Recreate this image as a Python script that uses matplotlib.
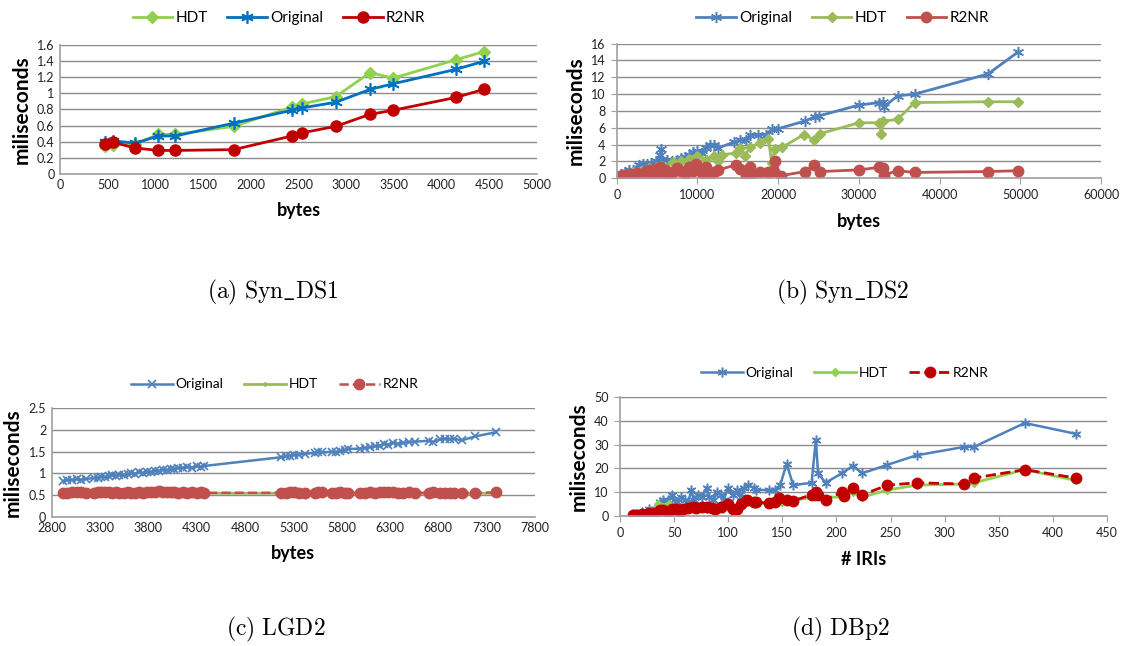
import matplotlib
matplotlib.use('Agg')
import matplotlib.pyplot as plt
from matplotlib.ticker import FuncFormatter, MultipleLocator

plt.rcParams['font.family'] = ['Lato', 'DejaVu Sans']
plt.rcParams['mathtext.fontset'] = 'cm'

# (a) Syn_DS1
a_x = [470, 560, 790, 1030, 1210, 1820, 2430, 2540, 2890, 3250, 3490, 4150, 4440]
a_hdt = [0.35, 0.36, 0.37, 0.49, 0.49, 0.59, 0.83, 0.87, 0.96, 1.26, 1.19, 1.42, 1.52]
a_orig = [0.39, 0.41, 0.38, 0.47, 0.47, 0.63, 0.79, 0.82, 0.89, 1.05, 1.12, 1.30, 1.40]
a_r2nr = [0.37, 0.39, 0.32, 0.29, 0.29, 0.30, 0.47, 0.51, 0.59, 0.74, 0.79, 0.95, 1.05]

# (b) Syn_DS2
b_orig_x = [500, 1000, 1500, 2000, 2700, 3200, 3800, 4300, 4800, 5400, 5500, 5600, 6200, 6800,
            7300, 8000, 8500, 9000, 9500, 10000, 10500, 11000, 11500, 12000, 12600, 14500, 15300,
            16000, 16500, 17500, 18500, 19200, 20000, 23300, 24500, 25000, 30000, 32500, 33000,
            33100, 34800, 36900, 46000, 49700]
b_orig = [0.5, 0.8, 1.0, 1.0, 1.6, 1.7, 1.7, 1.8, 2.0, 2.8, 3.5, 2.2, 2.2, 2.0,
          2.1, 2.4, 2.5, 2.8, 3.1, 3.2, 3.0, 3.6, 4.0, 4.0, 3.6, 4.3, 4.6,
          4.5, 5.1, 5.2, 5.2, 5.8, 5.9, 6.8, 7.3, 7.4, 8.7, 9.0, 9.1,
          8.5, 9.8, 10.0, 12.4, 15.0]
b_hdt_x = [500, 1000, 2000, 3000, 4000, 5000, 5500, 6000, 7000, 8000, 9000, 10000, 11000, 12000,
           12600, 13000, 14800, 15300, 15900, 16500, 17700, 18800, 19200, 19600, 20500, 23200,
           24400, 25200, 30000, 32500, 32800, 33000, 34800, 36900, 46000, 49700]
b_hdt = [0.3, 0.4, 0.7, 0.9, 1.2, 1.4, 1.5, 1.3, 1.9, 2.1, 2.3, 2.6, 2.2, 2.7,
         2.1, 2.8, 3.0, 3.6, 2.7, 3.7, 4.2, 4.7, 1.8, 3.5, 3.7, 5.2,
         4.6, 5.3, 6.6, 6.6, 5.3, 6.8, 7.0, 9.0, 9.1, 9.1]
b_r2nr_x = [400, 800, 1200, 1600, 2000, 2500, 3000, 3500, 4000, 4300, 4700, 5000, 5400, 5600,
            6000, 6500, 7000, 7500, 8000, 8500, 9000, 9500, 9800, 10500, 11000, 11500, 12000,
            12600, 14800, 15300, 16000, 16500, 16700, 17700, 18800, 19300, 19600, 20300, 23300,
            24400, 25200, 30000, 32500, 33000, 33100, 34800, 36900, 46000, 49700]
b_r2nr = [0.3, 0.4, 0.3, 0.5, 0.3, 0.6, 0.4, 0.8, 1.0, 0.5, 1.1, 0.7, 1.3, 0.4,
          1.0, 0.4, 0.8, 1.2, 0.9, 0.5, 1.3, 0.9, 1.7, 0.6, 1.4, 0.5, 0.8,
          1.0, 1.6, 1.1, 0.3, 1.3, 0.5, 0.8, 0.7, 0.9, 2.1, 0.3, 0.8,
          1.6, 0.8, 1.0, 1.3, 1.2, 0.4, 0.9, 0.7, 0.8, 0.9]

# (c) LGD2
c_ticks = [2800, 3300, 3800, 4300, 4800, 5300, 5800, 6300, 6800, 7300, 7800]
c_x = [2920, 2960, 3010, 3060, 3100, 3150, 3240, 3280, 3310, 3350, 3390, 3420, 3460, 3500,
       3550, 3590, 3620, 3660, 3700, 3740, 3790, 3830, 3870, 3910, 3950, 3990, 4030, 4070,
       4110, 4160, 4200, 4250, 4300, 4340, 4380,
       5170, 5220, 5270, 5310, 5360, 5420, 5520, 5560, 5600, 5700, 5740, 5780, 5830, 5870,
       5990, 6040, 6090, 6140, 6200, 6240, 6280, 6330, 6380, 6430, 6500, 6560, 6700, 6740,
       6820, 6870, 6920, 6960, 7040, 7180, 7400]
c_orig = [0.82, 0.84, 0.85, 0.86, 0.85, 0.87, 0.89, 0.90, 0.92, 0.91, 0.93, 0.95, 0.94, 0.96,
          0.95, 0.98, 1.00, 0.99, 1.02, 1.01, 1.04, 1.03, 1.06, 1.05, 1.08, 1.07, 1.09, 1.10,
          1.12, 1.13, 1.14, 1.13, 1.16, 1.15, 1.17,
          1.37, 1.39, 1.41, 1.42, 1.43, 1.45, 1.47, 1.50, 1.48, 1.50, 1.48, 1.51, 1.54, 1.56,
          1.57, 1.58, 1.60, 1.62, 1.64, 1.68, 1.66, 1.70, 1.68, 1.70, 1.72, 1.73, 1.75, 1.72,
          1.78, 1.80, 1.78, 1.80, 1.76, 1.85, 1.95]
c_hdt = [0.54, 0.54, 0.54, 0.55, 0.54, 0.54, 0.54, 0.54, 0.55, 0.54, 0.54, 0.55, 0.54, 0.54,
         0.54, 0.54, 0.54, 0.54, 0.55, 0.54, 0.54, 0.54, 0.54, 0.55, 0.54, 0.54, 0.54, 0.55,
         0.54, 0.54, 0.54, 0.54, 0.54, 0.54, 0.54,
         0.54, 0.54, 0.54, 0.55, 0.54, 0.54, 0.54, 0.54, 0.55, 0.54, 0.54, 0.54, 0.54, 0.54,
         0.54, 0.54, 0.55, 0.54, 0.54, 0.54, 0.55, 0.54, 0.54, 0.54, 0.54, 0.54, 0.54, 0.54,
         0.54, 0.54, 0.54, 0.54, 0.54, 0.54, 0.54]
c_r2nr = [0.55, 0.55, 0.56, 0.57, 0.56, 0.55, 0.55, 0.56, 0.56, 0.57, 0.56, 0.55, 0.56, 0.55,
          0.55, 0.56, 0.55, 0.55, 0.56, 0.55, 0.56, 0.56, 0.58, 0.59, 0.57, 0.56, 0.58, 0.56,
          0.55, 0.56, 0.55, 0.56, 0.55, 0.56, 0.55,
          0.55, 0.55, 0.56, 0.56, 0.55, 0.55, 0.55, 0.56, 0.56, 0.55, 0.55, 0.56, 0.55, 0.55,
          0.55, 0.55, 0.56, 0.55, 0.56, 0.57, 0.58, 0.56, 0.55, 0.55, 0.56, 0.55, 0.55, 0.56,
          0.55, 0.55, 0.55, 0.55, 0.55, 0.55, 0.56]

# (d) DBp2
d_orig_x = [12, 15, 20, 27, 32, 37, 40, 44, 48, 50, 53, 56, 60, 63, 66, 68, 72, 76, 80, 82,
            86, 90, 93, 96, 100, 104, 108, 112, 115, 118, 124, 126, 138, 143, 148, 154, 160,
            177, 181, 183, 190, 205, 215, 224, 247, 274, 318, 327, 374, 421]
d_orig = [1, 1, 2, 3, 3, 6, 7, 7, 9, 7, 6, 8, 7, 6, 11, 7, 9, 8, 12, 8,
          7, 10, 9, 7, 12, 9, 11, 8, 12, 13, 12, 11, 11, 11, 13, 22, 13,
          14, 32, 18, 14, 18, 21, 18, 21.5, 25.5, 29, 29, 39, 34.5]
d_hdt_x = [12, 20, 30, 35, 40, 45, 50, 55, 60, 70, 80, 88, 95, 100, 110, 125, 150, 180,
           205, 215, 224, 247, 274, 318, 327, 374, 421]
d_hdt = [0.5, 1, 2, 5, 4, 5, 3, 2, 3, 3, 3, 2, 3, 4, 4, 5, 6, 8,
         8, 10, 8, 11, 13, 13.5, 14, 19.5, 15]
d_r2nr_x = [12, 15, 20, 27, 32, 37, 40, 44, 48, 52, 55, 58, 63, 67, 70, 76, 80, 85, 88, 93,
            100, 104, 108, 112, 117, 124, 126, 138, 143, 147, 154, 160, 177, 181, 183, 190,
            205, 207, 215, 224, 247, 274, 318, 327, 374, 421]
d_r2nr = [0.5, 0.5, 1, 1.5, 1.5, 2.5, 2.5, 2, 3, 3, 2, 3, 3.5, 4, 3.5, 4, 4, 3.5, 3, 4,
          5, 3, 3, 5, 7, 6, 6, 5.5, 6, 7.5, 7, 6.5, 9, 10, 9, 7,
          10, 8.5, 12, 9, 13, 14, 13.5, 16, 19.5, 16]

star = (6, 2, 0)
fmt = FuncFormatter(lambda v, p: '{:g}'.format(round(v, 3)))


def style(ax, xlabel, xlim, xticks, ylim, ystep, ticklen):
    ax.set_xlim(*xlim)
    ax.set_ylim(*ylim)
    ax.set_xticks(xticks)
    ax.yaxis.set_major_locator(MultipleLocator(ystep))
    ax.yaxis.set_major_formatter(fmt)
    ax.xaxis.set_major_formatter(fmt)
    ax.grid(axis='y', color='#8c8c8c', lw=1)
    ax.set_axisbelow(True)
    for s in ['top', 'right']:
        ax.spines[s].set_visible(False)
    for s in ['left', 'bottom']:
        ax.spines[s].set_color('#a0a0a0')
        ax.spines[s].set_linewidth(1.2)
    ax.tick_params(labelsize=9, length=ticklen, color='#a0a0a0', labelcolor='#222222', pad=4)
    ax.set_ylabel('miliseconds', fontsize=15, fontweight='bold', labelpad=4)
    ax.set_xlabel(xlabel, fontsize=13, fontweight='bold', labelpad=8)


leg_kw = dict(loc='center', ncol=3, frameon=False, handletextpad=0.2)

fig = plt.figure(figsize=(11.22, 6.46), dpi=100)

# (a)
ax = fig.add_axes([0.0535, 0.7311, 0.4251, 0.1988])
ax.plot(a_x, a_hdt, color='#92D050', lw=2, marker='D', ms=6, label='HDT')
ax.plot(a_x, a_orig, color='#0070C0', lw=2, marker=star, ms=9, mew=1.2, label='Original')
ax.plot(a_x, a_r2nr, color='#C00000', lw=2, marker='o', ms=8, label='R2NR')
style(ax, 'bytes', (0, 5000), list(range(0, 5001, 500)), (0, 1.6), 0.2, 0)
ax.legend(bbox_to_anchor=(0.459, 1.21), fontsize=11, handlelength=2.6, columnspacing=1.3, **leg_kw)
fig.text(0.243, 0.548, r'$\mathrm{(a)\ Syn\_DS1}$', fontsize=17, ha='center', va='center')

# (b)
ax = fig.add_axes([0.5497, 0.7240, 0.4316, 0.2084])
ax.plot(b_orig_x, b_orig, color='#4F81BD', lw=2, marker=star, ms=8, mew=1.1, label='Original')
ax.plot(b_hdt_x, b_hdt, color='#9BBB59', lw=2, marker='D', ms=5.5, label='HDT')
ax.plot(b_r2nr_x, b_r2nr, color='#C0504D', lw=2, marker='o', ms=7.5, label='R2NR')
style(ax, 'bytes', (0, 60000), list(range(0, 60001, 10000)), (0, 16), 2, 4)
ax.legend(bbox_to_anchor=(0.466, 1.19), fontsize=11, handlelength=2.6, columnspacing=1.3, **leg_kw)
fig.text(0.751, 0.548, r'$\mathrm{(b)\ Syn\_DS2}$', fontsize=17, ha='center', va='center')

# (c)
ax = fig.add_axes([0.0461, 0.2002, 0.4307, 0.1678])
ax.plot(c_x, c_orig, color='#4F81BD', lw=1.8, marker='x', ms=6, mew=1.2, label='Original')
ax.plot(c_x, c_hdt, color='#9BBB59', lw=2, marker='D', ms=2, label='HDT')
ax.plot(c_x, c_r2nr, color='#C0504D', lw=1.8, ls='--', marker='o', ms=7.5, label='R2NR')
style(ax, 'bytes', (2800, 7800), c_ticks, (0, 2.5), 0.5, 0)
ax.legend(bbox_to_anchor=(0.462, 1.22), fontsize=10, handlelength=3, columnspacing=1.5, **leg_kw)
fig.text(0.246, 0.026, r'$\mathrm{(c)\ LGD2}$', fontsize=17, ha='center', va='center')

# (d)
ax = fig.add_axes([0.5526, 0.2008, 0.4340, 0.1851])
ax.plot(d_orig_x, d_orig, color='#4F81BD', lw=1.8, marker=star, ms=7, mew=1.1, label='Original')
ax.plot(d_hdt_x, d_hdt, color='#92D050', lw=2, marker='D', ms=4, label='HDT')
ax.plot(d_r2nr_x, d_r2nr, color='#C00000', lw=2, ls='--', marker='o', ms=7.5, label='R2NR')
style(ax, '# IRIs', (0, 450), list(range(0, 451, 50)), (0, 50), 10, 4)
ax.legend(bbox_to_anchor=(0.462, 1.2), fontsize=10, handlelength=3, columnspacing=1.5, **leg_kw)
fig.text(0.749, 0.026, r'$\mathrm{(d)\ DBp2}$', fontsize=17, ha='center', va='center')

plt.savefig('out.png', dpi=100)
